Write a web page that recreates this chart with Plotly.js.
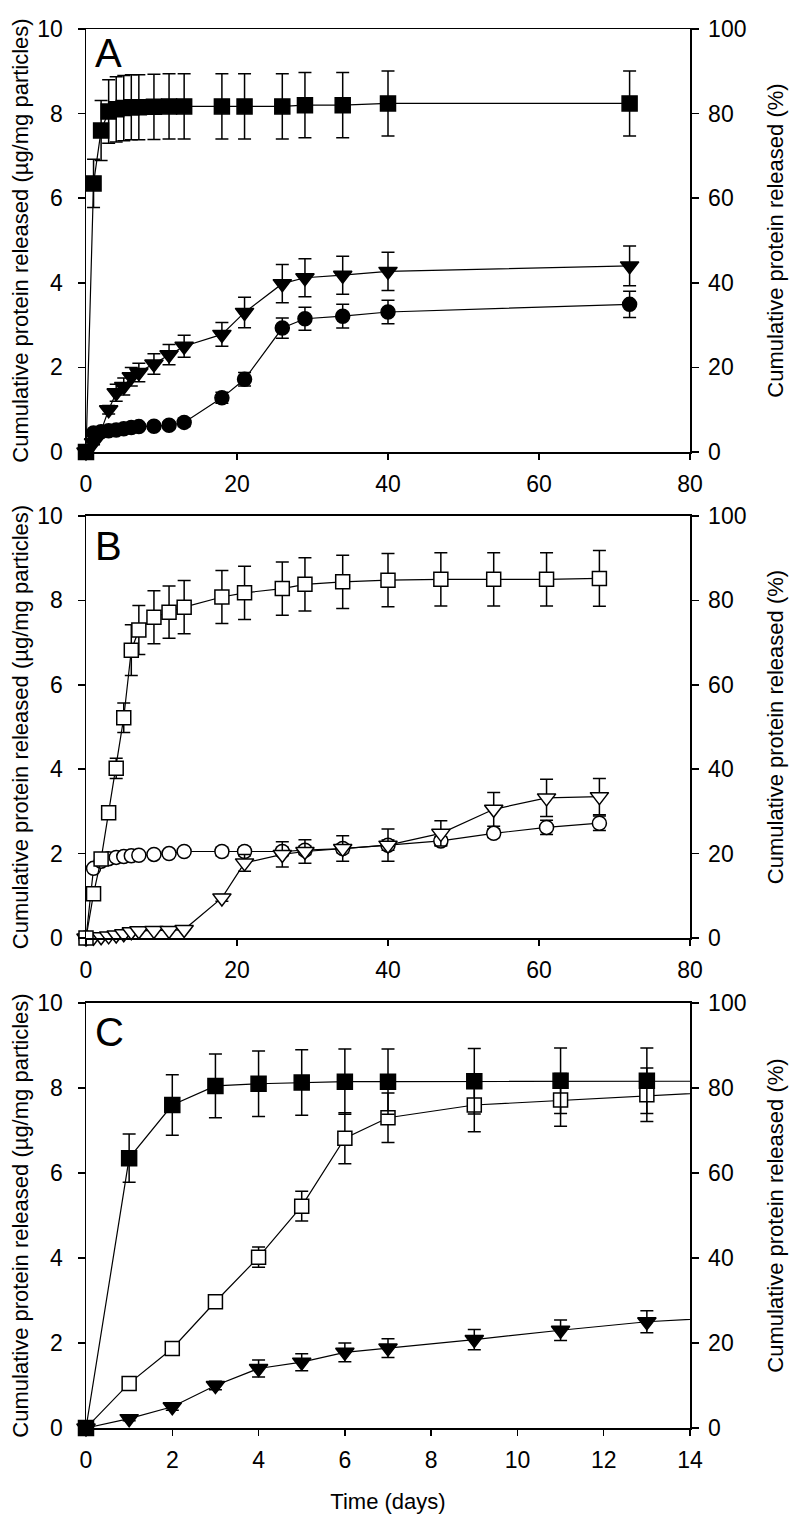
<!DOCTYPE html>
<html>
<head>
<meta charset="utf-8">
<script src="https://cdn.plot.ly/plotly-3.0.1.min.js"></script>
<style>html,body{margin:0;padding:0;background:#fff;}#chart{width:792px;height:1514px;}</style>
</head>
<body>
<div id="chart"></div>
<script>
// ---------- data ----------
const daysA = [0, 1, 2, 3, 4, 5, 6, 7, 9, 11, 13, 18, 21, 26, 29, 34, 40, 72];
const daysB = [0, 1, 2, 3, 4, 5, 6, 7, 9, 11, 13, 18, 21, 26, 29, 34, 40, 47, 54, 61, 68];

// Panel A: filled squares, filled circles, filled down-triangles
const sqA    = [0, 6.35, 7.6, 8.05, 8.1, 8.13, 8.15, 8.15, 8.16, 8.17, 8.17, 8.17, 8.17, 8.17, 8.2, 8.2, 8.24, 8.24];
const sqAerr = [0, 0.57, 0.71, 0.75, 0.77, 0.77, 0.77, 0.77, 0.77, 0.77, 0.77, 0.77, 0.77, 0.77, 0.77, 0.77, 0.77, 0.77];
const ciA    = [0, 0.45, 0.48, 0.5, 0.52, 0.55, 0.58, 0.6, 0.61, 0.63, 0.7, 1.28, 1.72, 2.93, 3.15, 3.21, 3.31, 3.49];
const ciAerr = [0, 0.06, 0.06, 0.06, 0.06, 0.06, 0.06, 0.07, 0.07, 0.08, 0.1, 0.13, 0.16, 0.24, 0.27, 0.28, 0.28, 0.31];
const trA    = [0, 0.22, 0.5, 1.0, 1.4, 1.55, 1.78, 1.88, 2.08, 2.3, 2.5, 2.78, 3.3, 3.98, 4.12, 4.18, 4.27, 4.4];
const trAerr = [0, 0.05, 0.08, 0.1, 0.2, 0.2, 0.22, 0.22, 0.24, 0.24, 0.26, 0.28, 0.36, 0.45, 0.45, 0.45, 0.45, 0.47];

// Panel B: open squares, open circles, open down-triangles
const sqB    = [0, 1.05, 1.87, 2.97, 4.02, 5.22, 6.82, 7.3, 7.6, 7.72, 7.84, 8.08, 8.18, 8.28, 8.38, 8.44, 8.48, 8.5, 8.5, 8.5, 8.52];
const sqBerr = [0, 0.05, 0.08, 0.1, 0.24, 0.35, 0.6, 0.58, 0.63, 0.62, 0.63, 0.63, 0.63, 0.63, 0.63, 0.63, 0.63, 0.63, 0.63, 0.63, 0.66];
const ciB    = [0, 1.65, 1.82, 1.88, 1.91, 1.93, 1.95, 1.96, 1.98, 2.0, 2.05, 2.05, 2.05, 2.05, 2.08, 2.12, 2.2, 2.3, 2.48, 2.62, 2.72];
const ciBerr = [0, 0.04, 0.04, 0.04, 0.04, 0.04, 0.04, 0.04, 0.05, 0.05, 0.05, 0.1, 0.1, 0.1, 0.1, 0.1, 0.12, 0.1, 0.1, 0.17, 0.17];
const trB    = [0, 0.02, 0.03, 0.05, 0.07, 0.1, 0.15, 0.17, 0.18, 0.18, 0.2, 0.95, 1.78, 1.98, 2.05, 2.12, 2.2, 2.48, 3.05, 3.32, 3.35];
const trBerr = [0, 0, 0, 0, 0, 0, 0, 0, 0, 0, 0, 0.08, 0.2, 0.3, 0.28, 0.3, 0.38, 0.3, 0.4, 0.44, 0.43];

const panelLetters = ['A', 'B', 'C'];
const leftTitle = 'Cumulative protein released (µg/mg particles)';
const rightTitle = 'Cumulative protein released (%)';
const xTitle = 'Time (days)';
const xMaxAB = 80, xMaxC = 14;

// ---------- styling ----------
const FONT = 'Liberation Sans, Arial, sans-serif';
const BLACK = '#000';

function errObj(arr) {
  return {type: 'data', array: arr, visible: true, color: BLACK, thickness: 1.5, width: 6.5};
}
function markerStyle(kind) {
  const m = {filled_square: ['square', BLACK, 15], filled_circle: ['circle', BLACK, 14],
             filled_tri: ['triangle-down', BLACK, 16], open_square: ['square', '#fff', 14],
             open_circle: ['circle', '#fff', 14], open_tri: ['triangle-down', '#fff', 16]}[kind];
  return {symbol: m[0], color: m[1], size: m[2], line: {color: BLACK, width: 1.5}};
}
function fullTrace(x, y, err, kind, xa, ya) {
  return {x: x, y: y, xaxis: xa, yaxis: ya, type: 'scatter', mode: 'lines+markers',
          line: {color: BLACK, width: 1.2}, marker: markerStyle(kind), error_y: errObj(err),
          cliponaxis: false, showlegend: false, hoverinfo: 'x+y'};
}
// panel C: line over full data (clipped), markers only inside the x range
function zoomTraces(x, y, err, kind, xa, ya, xmax) {
  const idx = x.map((v, i) => i).filter(i => x[i] <= xmax);
  return [
    {x: x, y: y, xaxis: xa, yaxis: ya, type: 'scatter', mode: 'lines',
     line: {color: BLACK, width: 1.2}, cliponaxis: true, showlegend: false, hoverinfo: 'skip'},
    {x: idx.map(i => x[i]), y: idx.map(i => y[i]), xaxis: xa, yaxis: ya, type: 'scatter', mode: 'markers',
     marker: markerStyle(kind), error_y: errObj(idx.map(i => err[i])),
     cliponaxis: false, showlegend: false, hoverinfo: 'x+y'}
  ];
}
// empty trace so that the right-hand (%) axis of each panel gets drawn
function axisHolder(xa, ya) {
  return {x: [], y: [], xaxis: xa, yaxis: ya, type: 'scatter', mode: 'markers', showlegend: false, hoverinfo: 'skip'};
}

const traces = [
  fullTrace(daysA, ciA, ciAerr, 'filled_circle', 'x', 'y'),
  fullTrace(daysA, trA, trAerr, 'filled_tri', 'x', 'y'),
  fullTrace(daysA, sqA, sqAerr, 'filled_square', 'x', 'y'),
  fullTrace(daysB, ciB, ciBerr, 'open_circle', 'x2', 'y2'),
  fullTrace(daysB, trB, trBerr, 'open_tri', 'x2', 'y2'),
  fullTrace(daysB, sqB, sqBerr, 'open_square', 'x2', 'y2'),
  ...zoomTraces(daysA, trA, trAerr, 'filled_tri', 'x3', 'y3', xMaxC),
  ...zoomTraces(daysB, sqB, sqBerr, 'open_square', 'x3', 'y3', xMaxC),
  ...zoomTraces(daysA, sqA, sqAerr, 'filled_square', 'x3', 'y3', xMaxC),
  axisHolder('x', 'y4'), axisHolder('x2', 'y5'), axisHolder('x3', 'y6')
];

const tickFont = {family: FONT, size: 23, color: BLACK};
const titleFont = {family: FONT, size: 22, color: BLACK};

function xAxis(anchor, xmax, dtick, showTitle) {
  const a = {anchor: anchor, domain: [0, 1], range: [0, xmax], dtick: dtick, tick0: 0,
    showgrid: false, zeroline: false, showline: true, linecolor: BLACK, linewidth: 1.5, mirror: true,
    ticks: 'outside', ticklen: 6, tickwidth: 1.5, tickcolor: BLACK, tickfont: tickFont,
    ticklabelstandoff: 5, fixedrange: true};
  if (showTitle) a.title = {text: xTitle, font: titleFont, standoff: 22};
  return a;
}
function yLeft(anchor, domain) {
  return {anchor: anchor, domain: domain, range: [0, 10], dtick: 2, tick0: 0,
    showgrid: false, zeroline: false, showline: true, linecolor: BLACK, linewidth: 1.5, mirror: false,
    ticks: 'outside', ticklen: 7, tickwidth: 1.5, tickcolor: BLACK, tickfont: tickFont,
    ticklabelstandoff: 10,
    title: {text: leftTitle, font: titleFont, standoff: 2}, fixedrange: true};
}
function yRight(anchor, over) {
  return {anchor: anchor, overlaying: over, side: 'right', range: [0, 100], dtick: 20, tick0: 0,
    showgrid: false, zeroline: false, showline: true, linecolor: BLACK, linewidth: 1.5,
    ticks: 'outside', ticklen: 7, tickwidth: 1.5, tickcolor: BLACK, tickfont: tickFont,
    ticklabelstandoff: 5,
    title: {text: rightTitle, font: titleFont, standoff: 22}, fixedrange: true};
}

const domA = [0.69764, 1.0], domB = [0.35025, 0.65190], domC = [0.0, 0.30379];
const letterY = [1.0, 0.986, 0.988];

const layout = {
  width: 792, height: 1514,
  margin: {l: 86, r: 102, t: 29, b: 86, pad: 0},
  paper_bgcolor: '#fff', plot_bgcolor: '#fff',
  showlegend: false,
  font: {family: FONT, color: BLACK},
  xaxis: xAxis('y', xMaxAB, 20, false),
  xaxis2: xAxis('y2', xMaxAB, 20, false),
  xaxis3: xAxis('y3', xMaxC, 2, true),
  yaxis: yLeft('x', domA),
  yaxis2: yLeft('x2', domB),
  yaxis3: yLeft('x3', domC),
  yaxis4: yRight('x', 'y'),
  yaxis5: yRight('x2', 'y2'),
  yaxis6: yRight('x3', 'y3'),
  annotations: panelLetters.map((t, i) => ({
    text: t, xref: (i === 0 ? 'x' : 'x' + (i + 1)) + ' domain', yref: (i === 0 ? 'y' : 'y' + (i + 1)) + ' domain',
    x: 0.012, y: letterY[i], xanchor: 'left', yanchor: 'top', showarrow: false,
    font: {family: FONT, size: 40, color: BLACK}
  }))
};

Plotly.newPlot('chart', traces, layout, {staticPlot: true, displayModeBar: false});
</script>
</body>
</html>
